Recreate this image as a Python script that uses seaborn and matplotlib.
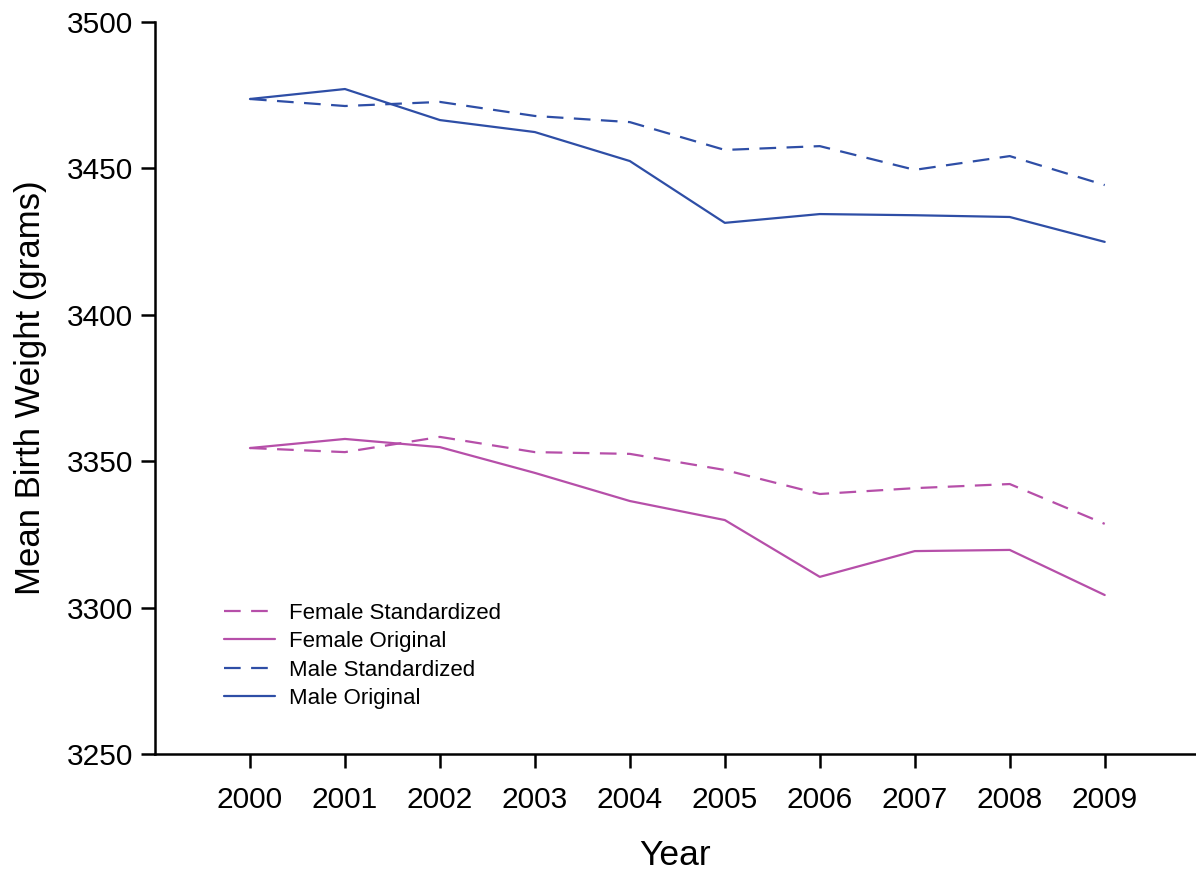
import matplotlib
matplotlib.use("Agg")
import matplotlib.pyplot as plt
import seaborn as sns
import pandas as pd

years = [2000, 2001, 2002, 2003, 2004, 2005, 2006, 2007, 2008, 2009]

female_standardized = [3354.5, 3353.1, 3358.3, 3353.1, 3352.5, 3347.0, 3338.8, 3340.8, 3342.2, 3328.6]
female_original = [3354.5, 3357.6, 3354.8, 3346.0, 3336.4, 3329.9, 3310.5, 3319.3, 3319.7, 3304.3]
male_standardized = [3473.7, 3471.3, 3472.7, 3467.9, 3465.8, 3456.3, 3457.6, 3449.5, 3454.2, 3444.3]
male_original = [3473.7, 3477.1, 3466.5, 3462.4, 3452.5, 3431.4, 3434.4, 3434.0, 3433.4, 3424.9]

series_names = ["Female Standardized", "Female Original", "Male Standardized", "Male Original"]
series_values = [female_standardized, female_original, male_standardized, male_original]

y_ticks = [3250, 3300, 3350, 3400, 3450, 3500]

FEMALE = "#b64fa9"
MALE = "#2e4ea6"

rows = []
for name, vals in zip(series_names, series_values):
    for yr, v in zip(years, vals):
        rows.append({"Year": yr, "Weight": v, "Series": name})
df = pd.DataFrame(rows)

sns.set_style("ticks")
plt.rcParams["font.family"] = ["Liberation Sans", "DejaVu Sans"]
plt.rcParams["text.color"] = "black"
plt.rcParams["axes.labelcolor"] = "black"

fig = plt.figure(figsize=(11.96, 8.72), dpi=100)
ax = fig.add_axes([0.1296, 0.1353, 0.8695, 0.8395])

palette = {
    "Female Standardized": FEMALE,
    "Female Original": FEMALE,
    "Male Standardized": MALE,
    "Male Original": MALE,
}
dashes = {
    "Female Standardized": (7.5, 4.7),
    "Female Original": "",
    "Male Standardized": (7.5, 4.7),
    "Male Original": "",
}

sns.lineplot(data=df, x="Year", y="Weight", hue="Series", style="Series",
             hue_order=series_names, style_order=series_names,
             palette=palette, dashes=dashes, linewidth=1.6, ax=ax)

ax.set_xlim(1999, 2009.95)
ax.set_ylim(3250, 3500)
ax.set_xticks(years)
ax.set_xticklabels([str(y) for y in years])
ax.set_yticks(y_ticks)

for side in ["top", "right"]:
    ax.spines[side].set_visible(False)
for side in ["left", "bottom"]:
    ax.spines[side].set_linewidth(1.8)
    ax.spines[side].set_color("black")

ax.tick_params(axis="both", direction="out", length=10, width=1.8, labelsize=21.5,
               colors="black", labelcolor="black")
ax.tick_params(axis="x", pad=13)
ax.tick_params(axis="y", pad=6)

ax.set_xlabel("Year", fontsize=25.5, labelpad=18)
ax.set_ylabel("Mean Birth Weight (grams)", fontsize=25, labelpad=14)

leg = ax.legend(loc="upper left", bbox_to_anchor=(0.058, 0.219), frameon=False,
                fontsize=16, handlelength=2.3, handletextpad=0.6, labelspacing=0.34,
                borderaxespad=0)
for t in leg.get_texts():
    t.set_color("black")

fig.savefig("out.png", dpi=100)
